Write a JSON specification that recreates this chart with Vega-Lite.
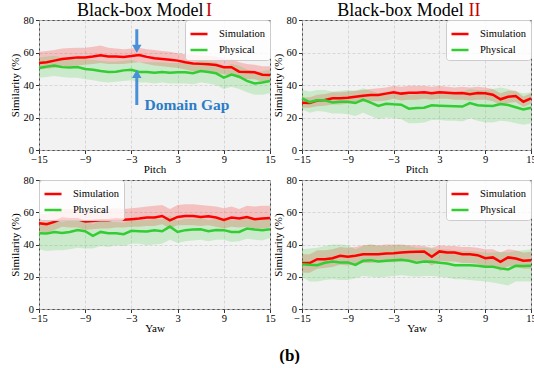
{
"$schema": "https://vega.github.io/schema/vega-lite/v6.json",
"background": "white",
"padding": {"left": 8, "top": 1, "right": 0, "bottom": 0},
"bounds": "flush",
"columns": 2,
"spacing": {"row": 30, "column": 32},
"title": {"text": "(b)", "orient": "bottom", "font": "Liberation Serif", "fontSize": 17, "fontWeight": "bold", "anchor": "middle", "offset": 14, "dx": 17, "color": "#000"},
"resolve": {"scale": {"color": "independent"}, "legend": {"color": "independent"}},
"datasets": {
"A": [
{"x":-15,"sm":53.5,"sl":49.5,"sh":60.5,"pm":50.5,"pl":44.5,"ph":57},
{"x":-14,"sm":54,"sl":50,"sh":61,"pm":51.3,"pl":45,"ph":57.5},
{"x":-13,"sm":55,"sl":50.5,"sh":61.5,"pm":52,"pl":45.5,"ph":58},
{"x":-12,"sm":56,"sl":51,"sh":62.5,"pm":51,"pl":45,"ph":57},
{"x":-11,"sm":56.5,"sl":51.5,"sh":62.8,"pm":50.7,"pl":44.5,"ph":57},
{"x":-10,"sm":57,"sl":52,"sh":63,"pm":51,"pl":44.5,"ph":57},
{"x":-9,"sm":57,"sl":52.5,"sh":63,"pm":49.8,"pl":43.5,"ph":56},
{"x":-8,"sm":57.5,"sl":53,"sh":63.5,"pm":49.4,"pl":43,"ph":55.5},
{"x":-7,"sm":58.3,"sl":53.5,"sh":64.3,"pm":48.6,"pl":42,"ph":55},
{"x":-6,"sm":57.6,"sl":53,"sh":63,"pm":48,"pl":41.5,"ph":54.5},
{"x":-5,"sm":57.5,"sl":53,"sh":62.5,"pm":48.2,"pl":42,"ph":54.5},
{"x":-4,"sm":57.3,"sl":53,"sh":62,"pm":49,"pl":42.5,"ph":55},
{"x":-3,"sm":57.8,"sl":53.5,"sh":62.5,"pm":49.4,"pl":43,"ph":55.5},
{"x":-2,"sm":58.5,"sl":54,"sh":63,"pm":48,"pl":41.5,"ph":54},
{"x":-1,"sm":57.3,"sl":53,"sh":62,"pm":48,"pl":41.5,"ph":54},
{"x":0,"sm":56.5,"sl":52,"sh":61.5,"pm":47.6,"pl":41,"ph":54},
{"x":1,"sm":56,"sl":51.5,"sh":61,"pm":48,"pl":41.5,"ph":54},
{"x":2,"sm":55.5,"sl":51,"sh":60.5,"pm":47.6,"pl":41,"ph":53.5},
{"x":3,"sm":55,"sl":50.5,"sh":59.5,"pm":47.8,"pl":41,"ph":53.5},
{"x":4,"sm":54,"sl":49.5,"sh":59,"pm":47.8,"pl":41,"ph":53.5},
{"x":5,"sm":53.3,"sl":48.5,"sh":58.5,"pm":47.2,"pl":40.5,"ph":53},
{"x":6,"sm":53,"sl":48.5,"sh":58,"pm":48.6,"pl":41.5,"ph":55},
{"x":7,"sm":52.7,"sl":48,"sh":58,"pm":48,"pl":41,"ph":54.5},
{"x":8,"sm":52.3,"sl":47.5,"sh":57.5,"pm":47.2,"pl":40,"ph":54},
{"x":9,"sm":51,"sl":46.5,"sh":56.5,"pm":44.5,"pl":37.5,"ph":51},
{"x":10,"sm":51,"sl":46,"sh":56,"pm":46.4,"pl":39,"ph":53},
{"x":11,"sm":48.2,"sl":44,"sh":54,"pm":45.1,"pl":37.5,"ph":52},
{"x":12,"sm":48,"sl":43.5,"sh":53,"pm":42.5,"pl":35.5,"ph":49.5},
{"x":13,"sm":47.8,"sl":43.5,"sh":52.5,"pm":41,"pl":34,"ph":48},
{"x":14,"sm":46.3,"sl":42,"sh":51.5,"pm":41.6,"pl":34,"ph":48.5},
{"x":15,"sm":46.2,"sl":42,"sh":51.5,"pm":42.5,"pl":35,"ph":49.5}
],
"B": [
{"x":-15,"sm":29.1,"sl":26,"sh":32.5,"pm":31.8,"pl":25,"ph":37},
{"x":-14,"sm":29,"sl":26,"sh":32.5,"pm":29.5,"pl":23,"ph":36},
{"x":-13,"sm":30.5,"sl":27,"sh":34,"pm":30.6,"pl":24,"ph":37},
{"x":-12,"sm":30.8,"sl":27.2,"sh":34.5,"pm":30.6,"pl":23.5,"ph":37},
{"x":-11,"sm":31.8,"sl":28,"sh":35.5,"pm":29.3,"pl":22.5,"ph":36},
{"x":-10,"sm":31.8,"sl":28,"sh":35.5,"pm":29.7,"pl":22.5,"ph":36.5},
{"x":-9,"sm":32.2,"sl":28.5,"sh":36,"pm":29.7,"pl":22,"ph":37},
{"x":-8,"sm":32.8,"sl":29,"sh":36.5,"pm":28.9,"pl":21,"ph":36.5},
{"x":-7,"sm":33.4,"sl":29.5,"sh":37,"pm":31,"pl":23,"ph":38},
{"x":-6,"sm":33.8,"sl":30,"sh":37.5,"pm":29.1,"pl":21,"ph":36.5},
{"x":-5,"sm":33.8,"sl":30,"sh":38,"pm":27.1,"pl":19,"ph":35},
{"x":-4,"sm":34.7,"sl":30.5,"sh":38.5,"pm":28.5,"pl":20,"ph":36},
{"x":-3,"sm":35.5,"sl":31.5,"sh":39.5,"pm":28.1,"pl":19.5,"ph":36},
{"x":-2,"sm":34.7,"sl":30.5,"sh":39,"pm":27.9,"pl":19,"ph":36},
{"x":-1,"sm":35.3,"sl":31,"sh":39.5,"pm":25.4,"pl":16.5,"ph":34},
{"x":0,"sm":35.3,"sl":31,"sh":39.5,"pm":25.8,"pl":16.5,"ph":34.5},
{"x":1,"sm":35.5,"sl":31.5,"sh":39.5,"pm":26,"pl":17,"ph":35},
{"x":2,"sm":34.9,"sl":31,"sh":39,"pm":27.5,"pl":18.5,"ph":36},
{"x":3,"sm":35.5,"sl":31.5,"sh":39.5,"pm":27.3,"pl":18.5,"ph":36},
{"x":4,"sm":35.3,"sl":31.5,"sh":39,"pm":27.1,"pl":18,"ph":36},
{"x":5,"sm":34.9,"sl":31,"sh":38.5,"pm":26.9,"pl":18,"ph":36},
{"x":6,"sm":35.1,"sl":31,"sh":39,"pm":26.7,"pl":17.5,"ph":36},
{"x":7,"sm":34.3,"sl":30.5,"sh":38.5,"pm":28.9,"pl":19.5,"ph":37.5},
{"x":8,"sm":35.1,"sl":31,"sh":39,"pm":27.5,"pl":18,"ph":37},
{"x":9,"sm":34.9,"sl":31,"sh":38.5,"pm":27.3,"pl":17,"ph":37},
{"x":10,"sm":34,"sl":30,"sh":37.5,"pm":27.1,"pl":17,"ph":37.5},
{"x":11,"sm":31.2,"sl":27.5,"sh":35,"pm":28.3,"pl":18,"ph":38.5},
{"x":12,"sm":32.8,"sl":29,"sh":36.5,"pm":27.7,"pl":17.5,"ph":37.5},
{"x":13,"sm":33.2,"sl":29.5,"sh":36.5,"pm":26.3,"pl":16.5,"ph":36},
{"x":14,"sm":29.7,"sl":26.5,"sh":33,"pm":25,"pl":15.5,"ph":35},
{"x":15,"sm":31.8,"sl":28.5,"sh":35,"pm":26,"pl":16.5,"ph":35.5}
],
"C": [
{"x":-15,"sm":53.2,"sl":48,"sh":59,"pm":47,"pl":37,"ph":54},
{"x":-14,"sm":52.6,"sl":47.5,"sh":59,"pm":46.8,"pl":36,"ph":54},
{"x":-13,"sm":54,"sl":49,"sh":60,"pm":47.8,"pl":36.5,"ph":55},
{"x":-12,"sm":56.1,"sl":51,"sh":62,"pm":47.2,"pl":36.5,"ph":54},
{"x":-11,"sm":55.7,"sl":50.5,"sh":62,"pm":47.8,"pl":37,"ph":55},
{"x":-10,"sm":55.7,"sl":50.5,"sh":62,"pm":49,"pl":38,"ph":56},
{"x":-9,"sm":54.2,"sl":49,"sh":61,"pm":48.2,"pl":37.5,"ph":55},
{"x":-8,"sm":54.6,"sl":49.5,"sh":61.5,"pm":45.4,"pl":37.5,"ph":52.5},
{"x":-7,"sm":55,"sl":50,"sh":62,"pm":47.8,"pl":39,"ph":55},
{"x":-6,"sm":55,"sl":50,"sh":62,"pm":47,"pl":38.5,"ph":54},
{"x":-5,"sm":55.7,"sl":50.5,"sh":62.5,"pm":47,"pl":39.5,"ph":54},
{"x":-4,"sm":55.3,"sl":50.5,"sh":62,"pm":46.4,"pl":39,"ph":53.5},
{"x":-3,"sm":55.7,"sl":51,"sh":62.5,"pm":48.5,"pl":40.5,"ph":55.5},
{"x":-2,"sm":56.1,"sl":51,"sh":63,"pm":48.2,"pl":40.5,"ph":55},
{"x":-1,"sm":56.7,"sl":51.5,"sh":63.5,"pm":48,"pl":39.5,"ph":55},
{"x":0,"sm":56.7,"sl":51.5,"sh":64,"pm":48.9,"pl":40,"ph":56},
{"x":1,"sm":57.7,"sl":52.5,"sh":64.5,"pm":48.2,"pl":40.5,"ph":55.5},
{"x":2,"sm":55,"sl":50,"sh":62,"pm":51.1,"pl":43,"ph":58},
{"x":3,"sm":57.1,"sl":52,"sh":64.5,"pm":47.8,"pl":41,"ph":54.5},
{"x":4,"sm":57.7,"sl":52,"sh":65,"pm":48.9,"pl":42,"ph":56},
{"x":5,"sm":57.7,"sl":52,"sh":65,"pm":49.3,"pl":42.5,"ph":56},
{"x":6,"sm":57.1,"sl":51.5,"sh":64.5,"pm":49.5,"pl":43,"ph":56.5},
{"x":7,"sm":57.5,"sl":52,"sh":64,"pm":48.2,"pl":42,"ph":55},
{"x":8,"sm":56.7,"sl":51,"sh":63.5,"pm":49,"pl":43,"ph":56},
{"x":9,"sm":55.3,"sl":50,"sh":62.5,"pm":48.9,"pl":43,"ph":56},
{"x":10,"sm":56.7,"sl":51,"sh":63.5,"pm":47.8,"pl":41.5,"ph":55},
{"x":11,"sm":56.1,"sl":50.5,"sh":62,"pm":47.8,"pl":42,"ph":55},
{"x":12,"sm":57.1,"sl":51,"sh":64,"pm":49.9,"pl":43.5,"ph":57},
{"x":13,"sm":55.7,"sl":50,"sh":63.5,"pm":49.3,"pl":43,"ph":56},
{"x":14,"sm":56.1,"sl":50,"sh":64,"pm":48.9,"pl":42.5,"ph":56},
{"x":15,"sm":56.5,"sl":50.5,"sh":64,"pm":49.5,"pl":44,"ph":56.5}
],
"D": [
{"x":-15,"sm":28.5,"sl":22.5,"sh":34,"pm":27.8,"pl":20,"ph":37},
{"x":-14,"sm":28.5,"sl":22.5,"sh":34,"pm":27.4,"pl":17,"ph":37.5},
{"x":-13,"sm":30.9,"sl":25,"sh":36.5,"pm":27.2,"pl":17,"ph":38},
{"x":-12,"sm":30.9,"sl":25.5,"sh":36.5,"pm":28.7,"pl":18,"ph":39},
{"x":-11,"sm":31.5,"sl":26,"sh":37,"pm":29.5,"pl":18.5,"ph":40},
{"x":-10,"sm":33,"sl":27.5,"sh":38.5,"pm":28.9,"pl":18,"ph":40},
{"x":-9,"sm":32.4,"sl":27,"sh":38,"pm":28.9,"pl":18,"ph":39.5},
{"x":-8,"sm":33,"sl":28,"sh":38.5,"pm":27.4,"pl":19,"ph":37},
{"x":-7,"sm":34,"sl":28.5,"sh":39.5,"pm":29.9,"pl":20.5,"ph":39},
{"x":-6,"sm":34,"sl":28.5,"sh":40,"pm":30.3,"pl":20,"ph":40},
{"x":-5,"sm":34,"sl":29,"sh":39.5,"pm":29.5,"pl":19.5,"ph":39},
{"x":-4,"sm":34.4,"sl":29,"sh":40,"pm":29.9,"pl":20,"ph":39},
{"x":-3,"sm":34.6,"sl":29,"sh":40,"pm":30.3,"pl":20.5,"ph":39.5},
{"x":-2,"sm":35,"sl":29.5,"sh":40,"pm":30.5,"pl":21,"ph":39.5},
{"x":-1,"sm":35.3,"sl":29.5,"sh":39.5,"pm":29.9,"pl":20.5,"ph":39},
{"x":0,"sm":35.5,"sl":30,"sh":39.5,"pm":28.7,"pl":20,"ph":38},
{"x":1,"sm":35.7,"sl":30,"sh":39,"pm":29.5,"pl":20.5,"ph":38},
{"x":2,"sm":32.4,"sl":27,"sh":38,"pm":29.3,"pl":20.5,"ph":37.5},
{"x":3,"sm":35.7,"sl":30,"sh":39.5,"pm":28.7,"pl":20,"ph":37},
{"x":4,"sm":35,"sl":29.5,"sh":39,"pm":28.2,"pl":19.5,"ph":37},
{"x":5,"sm":35,"sl":29.5,"sh":39,"pm":27.2,"pl":18.5,"ph":36.5},
{"x":6,"sm":34,"sl":28.5,"sh":38.5,"pm":27.2,"pl":18.5,"ph":36},
{"x":7,"sm":34,"sl":28.5,"sh":38.5,"pm":27.2,"pl":18,"ph":36},
{"x":8,"sm":33.4,"sl":28,"sh":38,"pm":26.8,"pl":17.5,"ph":35.5},
{"x":9,"sm":31.5,"sl":26,"sh":37,"pm":26.2,"pl":17,"ph":35},
{"x":10,"sm":32,"sl":26.5,"sh":37,"pm":26.2,"pl":16.5,"ph":35},
{"x":11,"sm":29.3,"sl":23.5,"sh":35,"pm":25.2,"pl":15.5,"ph":35.5},
{"x":12,"sm":32,"sl":26.5,"sh":37,"pm":24.5,"pl":14.5,"ph":35},
{"x":13,"sm":31.3,"sl":26,"sh":36.5,"pm":26.8,"pl":17,"ph":36},
{"x":14,"sm":29.9,"sl":25,"sh":35,"pm":26.6,"pl":17,"ph":36.5},
{"x":15,"sm":30.3,"sl":25,"sh":35.5,"pm":26.8,"pl":17,"ph":37}
]
},
"concat": [
{
"width": 231, "height": 130,
"layer": [
{"data": {"name": "A"}, "mark": {"type": "area", "color": "#ff0000", "opacity": 0.2}, "encoding": {"x": {"field": "x", "type": "quantitative", "scale": {"domain": [-15, 15], "nice": false, "zero": false}, "axis": {"values": [-15, -9, -3, 3, 9, 15], "tickCount": 10, "title": "Pitch", "titleFontWeight": "normal"}}, "y": {"field": "sl", "type": "quantitative", "scale": {"domain": [0, 80], "nice": false}, "axis": {"values": [0, 20, 40, 60, 80], "tickCount": 10, "title": "Similarity (%)", "titleFontWeight": "normal"}}, "y2": {"field": "sh"}}},
{"data": {"name": "A"}, "mark": {"type": "area", "color": "#32cd32", "opacity": 0.2}, "encoding": {"x": {"field": "x", "type": "quantitative"}, "y": {"field": "pl", "type": "quantitative"}, "y2": {"field": "ph"}}},
{"data": {"name": "A"}, "mark": {"type": "line", "strokeWidth": 2.5}, "encoding": {"x": {"field": "x", "type": "quantitative"}, "y": {"field": "sm", "type": "quantitative"}, "color": {"datum": "Simulation", "type": "nominal", "scale": {"domain": ["Simulation", "Physical"], "range": ["#ff0000", "#32cd32"]}, "legend": {"orient": "top-right", "title": null}}}},
{"data": {"name": "A"}, "mark": {"type": "line", "strokeWidth": 2.5}, "encoding": {"x": {"field": "x", "type": "quantitative"}, "y": {"field": "pm", "type": "quantitative"}, "color": {"datum": "Physical", "type": "nominal"}}},
{"data": {"values": [{}]}, "mark": {"type": "text", "align": "left", "baseline": "alphabetic", "font": "Liberation Serif", "fontSize": 18, "color": "#000"}, "encoding": {"x": {"datum": -10.06, "type": "quantitative"}, "y": {"datum": 82.5, "type": "quantitative"}, "text": {"value": "Black-box Model"}}},
{"data": {"values": [{}]}, "mark": {"type": "text", "align": "left", "baseline": "alphabetic", "font": "Liberation Serif", "fontSize": 18, "color": "#c40000"}, "encoding": {"x": {"datum": 6.7, "type": "quantitative"}, "y": {"datum": 82.5, "type": "quantitative"}, "text": {"value": "I"}}},
{"data": {"values": [{}]}, "mark": {"type": "rule", "strokeWidth": 3, "color": "#4a90d9"}, "encoding": {"x": {"datum": -2.3, "type": "quantitative"}, "y": {"datum": 74.3, "type": "quantitative"}, "y2": {"datum": 64}}},
{"data": {"values": [{}]}, "mark": {"type": "point", "shape": "triangle-down", "filled": true, "size": 90, "opacity": 1, "color": "#4a90d9"}, "encoding": {"x": {"datum": -2.3, "type": "quantitative"}, "y": {"datum": 62.3, "type": "quantitative"}}},
{"data": {"values": [{}]}, "mark": {"type": "rule", "strokeWidth": 3, "color": "#4a90d9"}, "encoding": {"x": {"datum": -2.3, "type": "quantitative"}, "y": {"datum": 27.7, "type": "quantitative"}, "y2": {"datum": 45}}},
{"data": {"values": [{}]}, "mark": {"type": "point", "shape": "triangle-up", "filled": true, "size": 90, "opacity": 1, "color": "#4a90d9"}, "encoding": {"x": {"datum": -2.3, "type": "quantitative"}, "y": {"datum": 46.9, "type": "quantitative"}}},
{"data": {"values": [{}]}, "mark": {"type": "text", "align": "left", "baseline": "alphabetic", "font": "Liberation Serif", "fontSize": 15.5, "fontWeight": "bold", "color": "#2b7cc7"}, "encoding": {"x": {"datum": -1.3, "type": "quantitative"}, "y": {"datum": 24.6, "type": "quantitative"}, "text": {"value": "Domain Gap"}}}
]
},
{
"width": 229, "height": 130,
"layer": [
{"data": {"name": "B"}, "mark": {"type": "area", "color": "#ff0000", "opacity": 0.2}, "encoding": {"x": {"field": "x", "type": "quantitative", "scale": {"domain": [-15, 15], "nice": false, "zero": false}, "axis": {"values": [-15, -9, -3, 3, 9, 15], "tickCount": 10, "title": "Pitch", "titleFontWeight": "normal"}}, "y": {"field": "sl", "type": "quantitative", "scale": {"domain": [0, 80], "nice": false}, "axis": {"values": [0, 20, 40, 60, 80], "tickCount": 10, "title": "Similarity (%)", "titleFontWeight": "normal"}}, "y2": {"field": "sh"}}},
{"data": {"name": "B"}, "mark": {"type": "area", "color": "#32cd32", "opacity": 0.2}, "encoding": {"x": {"field": "x", "type": "quantitative"}, "y": {"field": "pl", "type": "quantitative"}, "y2": {"field": "ph"}}},
{"data": {"name": "B"}, "mark": {"type": "line", "strokeWidth": 2.5}, "encoding": {"x": {"field": "x", "type": "quantitative"}, "y": {"field": "sm", "type": "quantitative"}, "color": {"datum": "Simulation", "type": "nominal", "scale": {"domain": ["Simulation", "Physical"], "range": ["#ff0000", "#32cd32"]}, "legend": {"orient": "top-right", "title": null}}}},
{"data": {"name": "B"}, "mark": {"type": "line", "strokeWidth": 2.5}, "encoding": {"x": {"field": "x", "type": "quantitative"}, "y": {"field": "pm", "type": "quantitative"}, "color": {"datum": "Physical", "type": "nominal"}}},
{"data": {"values": [{}]}, "mark": {"type": "text", "align": "left", "baseline": "alphabetic", "font": "Liberation Serif", "fontSize": 18, "color": "#000"}, "encoding": {"x": {"datum": -10.37, "type": "quantitative"}, "y": {"datum": 82.5, "type": "quantitative"}, "text": {"value": "Black-box Model"}}},
{"data": {"values": [{}]}, "mark": {"type": "text", "align": "left", "baseline": "alphabetic", "font": "Liberation Serif", "fontSize": 18, "color": "#c40000"}, "encoding": {"x": {"datum": 6.8, "type": "quantitative"}, "y": {"datum": 82.5, "type": "quantitative"}, "text": {"value": "II"}}}
]
},
{
"width": 231, "height": 129,
"layer": [
{"data": {"name": "C"}, "mark": {"type": "area", "color": "#ff0000", "opacity": 0.2}, "encoding": {"x": {"field": "x", "type": "quantitative", "scale": {"domain": [-15, 15], "nice": false, "zero": false}, "axis": {"values": [-15, -9, -3, 3, 9, 15], "tickCount": 10, "title": "Yaw", "titleFontWeight": "normal"}}, "y": {"field": "sl", "type": "quantitative", "scale": {"domain": [0, 80], "nice": false}, "axis": {"values": [0, 20, 40, 60, 80], "tickCount": 10, "title": "Similarity (%)", "titleFontWeight": "normal"}}, "y2": {"field": "sh"}}},
{"data": {"name": "C"}, "mark": {"type": "area", "color": "#32cd32", "opacity": 0.2}, "encoding": {"x": {"field": "x", "type": "quantitative"}, "y": {"field": "pl", "type": "quantitative"}, "y2": {"field": "ph"}}},
{"data": {"name": "C"}, "mark": {"type": "line", "strokeWidth": 2.5}, "encoding": {"x": {"field": "x", "type": "quantitative"}, "y": {"field": "sm", "type": "quantitative"}, "color": {"datum": "Simulation", "type": "nominal", "scale": {"domain": ["Simulation", "Physical"], "range": ["#ff0000", "#32cd32"]}, "legend": {"orient": "top-left", "title": null}}}},
{"data": {"name": "C"}, "mark": {"type": "line", "strokeWidth": 2.5}, "encoding": {"x": {"field": "x", "type": "quantitative"}, "y": {"field": "pm", "type": "quantitative"}, "color": {"datum": "Physical", "type": "nominal"}}}
]
},
{
"width": 229, "height": 129,
"layer": [
{"data": {"name": "D"}, "mark": {"type": "area", "color": "#ff0000", "opacity": 0.2}, "encoding": {"x": {"field": "x", "type": "quantitative", "scale": {"domain": [-15, 15], "nice": false, "zero": false}, "axis": {"values": [-15, -9, -3, 3, 9, 15], "tickCount": 10, "title": "Yaw", "titleFontWeight": "normal"}}, "y": {"field": "sl", "type": "quantitative", "scale": {"domain": [0, 80], "nice": false}, "axis": {"values": [0, 20, 40, 60, 80], "tickCount": 10, "title": "Similarity (%)", "titleFontWeight": "normal"}}, "y2": {"field": "sh"}}},
{"data": {"name": "D"}, "mark": {"type": "area", "color": "#32cd32", "opacity": 0.2}, "encoding": {"x": {"field": "x", "type": "quantitative"}, "y": {"field": "pl", "type": "quantitative"}, "y2": {"field": "ph"}}},
{"data": {"name": "D"}, "mark": {"type": "line", "strokeWidth": 2.5}, "encoding": {"x": {"field": "x", "type": "quantitative"}, "y": {"field": "sm", "type": "quantitative"}, "color": {"datum": "Simulation", "type": "nominal", "scale": {"domain": ["Simulation", "Physical"], "range": ["#ff0000", "#32cd32"]}, "legend": {"orient": "top-right", "title": null}}}},
{"data": {"name": "D"}, "mark": {"type": "line", "strokeWidth": 2.5}, "encoding": {"x": {"field": "x", "type": "quantitative"}, "y": {"field": "pm", "type": "quantitative"}, "color": {"datum": "Physical", "type": "nominal"}}}
]
}
],
"config": {
"view": {"fill": "#f2f2f2", "stroke": "#444444", "strokeWidth": 1},
"axis": {"domain": false, "labelFont": "Liberation Serif", "labelFontSize": 10.5, "labelColor": "#000", "titleFont": "Liberation Serif", "titleFontSize": 11, "titleFontWeight": "normal", "titleColor": "#000", "tickColor": "#333", "tickSize": 3.5, "gridColor": "#cfcfcf", "gridDash": [3, 2], "gridWidth": 0.8, "labelFlush": false},
"axisX": {"labelPadding": 1, "titlePadding": -1.5},
"axisY": {"labelPadding": 2, "titlePadding": 3},
"legend": {"labelFont": "Liberation Serif", "labelFontSize": 10.5, "labelColor": "#000", "symbolType": "stroke", "symbolSize": 289, "symbolStrokeWidth": 2.5, "fillColor": "rgba(255,255,255,0.8)", "strokeColor": "#cccccc", "cornerRadius": 3, "padding": 4, "offset": 0, "rowPadding": -3, "labelOffset": 10}
}
}
